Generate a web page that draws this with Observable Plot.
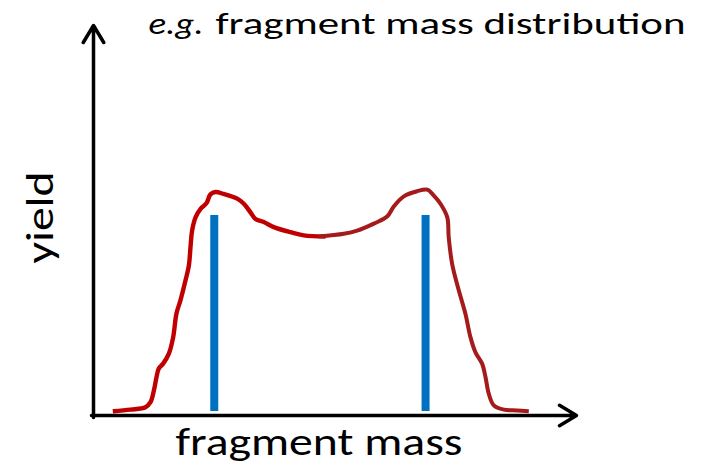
<!DOCTYPE html>
<html>
<head>
<meta charset="utf-8">
<script src="https://cdn.jsdelivr.net/npm/d3@7"></script>
<script src="https://cdn.jsdelivr.net/npm/@observablehq/plot@0.6"></script>
<style>
  html, body { margin: 0; padding: 0; background: #fff; }
  #chart svg { display: block; }
</style>
</head>
<body>
<div id="chart"></div>
<script>
// fragment mass (arbitrary units) and yield (arbitrary units) of the hand-drawn curve
const leftMass  = [9.6, 18.4, 25.8, 28.3, 30.0, 31.3, 32.4, 34.6, 37.4, 39.6, 41.2, 43.2, 45.7, 47.4, 48.2, 49.0, 50.7, 53.2, 56.1, 58.1, 60.6, 64.7, 71.4, 74.7, 78.0, 80.5, 84.6, 89.6, 97.9, 104.5, 115.3];
const leftYield = [1.1, 1.5, 2.1, 3.4, 6.4, 9.8, 12.0, 13.3, 15.8, 20.1, 26.1, 29.5, 34.6, 38.5, 43.2, 47.4, 50.8, 53.0, 54.4, 56.7, 57.3, 56.8, 55.6, 54.3, 52.1, 50.4, 49.6, 48.3, 47.0, 46.2, 45.9];
const rightMass  = [111.8, 124.4, 131.0, 139.3, 145.9, 149.2, 154.2, 160.8, 165.8, 169.1, 172.4, 175.8, 176.5, 178.2, 181.5, 184.8, 187.3, 189.8, 193.1, 194.8, 196.4, 198.9, 203.9, 210.5, 216.3];
const rightYield = [45.9, 46.6, 47.4, 49.2, 51.0, 53.6, 56.2, 57.5, 57.9, 56.4, 54.3, 50.8, 45.7, 38.9, 32.1, 26.1, 20.1, 16.2, 13.3, 9.8, 5.6, 2.6, 1.5, 1.3, 1.1];
// the two discrete fragment masses (blue bars)
const peakMass  = [60, 165];
const peakYield = [51.3, 51.3];
const peakBase  = [1, 1];
// axis extents
const xAxisExtent = {x1: -1, x2: 240, y1: 0, y2: 0};
const yAxisExtent = {x1: 0, x2: 0, y1: -0.5, y2: 100};

const leftCurve  = leftMass.map((m, i) => ({mass: m, yield: leftYield[i]}));
const rightCurve = rightMass.map((m, i) => ({mass: m, yield: rightYield[i]}));
const peaks = peakMass.map((m, i) => ({mass: m, y1: peakBase[i], y2: peakYield[i]}));

const fontFamily = "Carlito, Lato, 'Open Sans', sans-serif";

const chart = Plot.plot({
  width: 702,
  height: 466,
  margin: 0,
  style: {fontFamily, background: "#fff", overflow: "visible"},
  x: {domain: [0, 240], range: [93, 576], axis: null},
  y: {domain: [0, 100], range: [415, 25], axis: null},
  marks: [
    Plot.ruleX(peaks, {x: "mass", y1: "y1", y2: "y2", stroke: "#0070c0", strokeWidth: 8}),
    Plot.line(leftCurve, {x: "mass", y: "yield", stroke: "#c00000", strokeWidth: 4.4, curve: "catmull-rom", strokeLinecap: "butt", strokeLinejoin: "round"}),
    Plot.line(rightCurve, {x: "mass", y: "yield", stroke: "#a51a1a", strokeWidth: 4, curve: "catmull-rom", strokeLinecap: "butt", strokeLinejoin: "round"}),
    Plot.arrow([xAxisExtent], {x1: "x1", y1: "y1", x2: "x2", y2: "y2", stroke: "black", strokeWidth: 3.5, headLength: 8.5, headAngle: 62}),
    Plot.arrow([yAxisExtent], {x1: "x1", y1: "y1", x2: "x2", y2: "y2", stroke: "black", strokeWidth: 3.5, headLength: 8.5, headAngle: 62}),
    Plot.text(["e.g."], {frameAnchor: "top-left", dx: 148, dy: 33, lineAnchor: "bottom", textAnchor: "start", fontSize: 31, fontStyle: "italic", fill: "black", className: "t-eg"}),
    Plot.text(["fragment mass distribution"], {frameAnchor: "top-left", dx: 215, dy: 33, lineAnchor: "bottom", textAnchor: "start", fontSize: 31, fill: "black", className: "t-title"}),
    Plot.text(["fragment mass"], {frameAnchor: "top-left", dx: 175, dy: 454, lineAnchor: "bottom", textAnchor: "start", fontSize: 38, fill: "black", className: "t-xlabel"}),
    Plot.text(["yield"], {frameAnchor: "top-left", dx: 52, dy: 217, lineAnchor: "bottom", textAnchor: "middle", rotate: -90, fontSize: 38, fill: "black", className: "t-ylabel"})
  ]
});

const svg = d3.select(chart);
svg.selectAll(".t-eg text").attr("textLength", 55).attr("lengthAdjust", "spacingAndGlyphs");
svg.selectAll(".t-title text").attr("textLength", 470).attr("lengthAdjust", "spacingAndGlyphs");
svg.selectAll(".t-xlabel text").attr("textLength", 287).attr("lengthAdjust", "spacingAndGlyphs");
svg.selectAll(".t-ylabel text").attr("textLength", 92).attr("lengthAdjust", "spacingAndGlyphs");

document.getElementById("chart").appendChild(chart);
</script>
</body>
</html>
